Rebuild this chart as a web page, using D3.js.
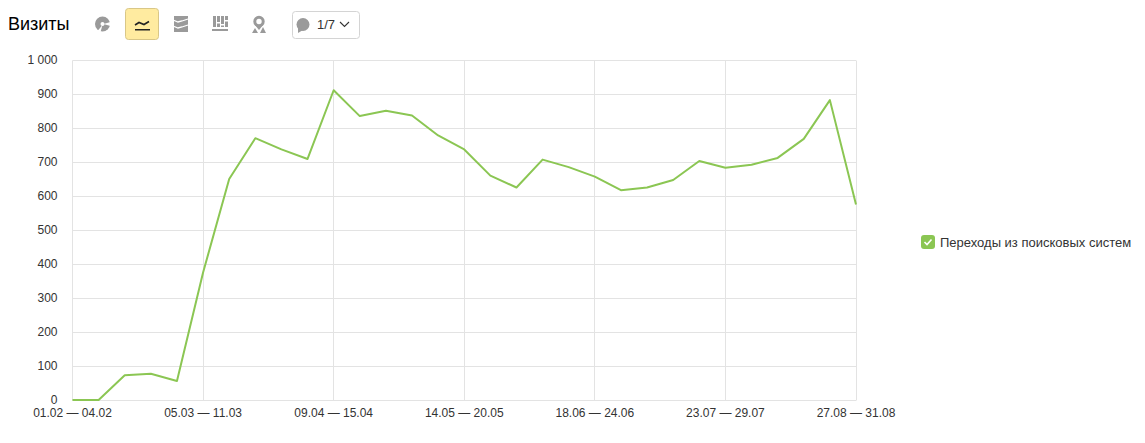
<!DOCTYPE html>
<html><head><meta charset="utf-8">
<script src="https://cdn.jsdelivr.net/npm/d3@7"></script>
<style>html,body{margin:0;padding:0;background:#fff}svg{display:block;font-family:"Liberation Sans",Arial,sans-serif}</style>
</head><body><svg id="c" width="1145" height="443"></svg>
<script>
const seriesName = "Переходы из поисковых систем";
const titleText = "Визиты";
const visits = [0,0,73,77,56,375,650,770,737,709,911,835,851,837,778,737,660,625,707,685,657,617,625,647,703,683,692,712,768,882,575];
const xTickIndex = [0,5,10,15,20,25,30];
const xTickLabels = ["01.02 — 04.02","05.03 — 11.03","09.04 — 15.04","14.05 — 20.05","18.06 — 24.06","23.07 — 29.07","27.08 — 31.08"];
const yTicks = [0,100,200,300,400,500,600,700,800,900,1000];

const svg = d3.select("#c");
const x = d3.scaleLinear().domain([0,visits.length-1]).range([72.5,856]);
const y = d3.scaleLinear().domain([0,1000]).range([400,60]);
const grid = "#e3e3e3", txt = "#333";
const fmt = v => v>=1000 ? d3.format(",")(v).replace(",", " ") : String(v);

// horizontal grid + y labels
const ya = svg.append("g").attr("transform","translate(72.5,0)")
  .call(d3.axisLeft(y).tickValues(yTicks).tickSize(-783.5).tickPadding(15).tickFormat(fmt));
ya.select(".domain").remove();
ya.selectAll("line").attr("stroke",grid);
ya.selectAll("text").attr("fill",txt).style("font-size","12px").style("font-family","inherit");

// vertical grid + x labels
const xa = svg.append("g").attr("transform","translate(0,400.5)")
  .call(d3.axisBottom(x).offset(0).tickValues(xTickIndex).tickSize(-340).tickPadding(8).tickFormat((d,i)=>xTickLabels[i]));
xa.select(".domain").remove();
xa.selectAll("line").attr("stroke",grid).attr("x1",d=>Math.floor(x(d))+0.5-x(d)).attr("x2",d=>Math.floor(x(d))+0.5-x(d));
xa.selectAll("text").attr("fill",txt).style("font-size","12px").style("font-family","inherit");

// line
svg.append("path").datum(visits)
  .attr("fill","none").attr("stroke","#8bc653").attr("stroke-width",2).attr("stroke-linejoin","round")
  .attr("d",d3.line().x((d,i)=>x(i)).y(d=>y(d)));

// title
svg.append("text").attr("x",8).attr("y",30).attr("font-size",18).attr("fill","#000").text(titleText);

// toolbar icons
const ic = "#9a9a9a";
// pie
const pie = svg.append("g").attr("transform","translate(102.5,24)");
pie.append("circle").attr("r",7.5).attr("fill",ic);
pie.append("circle").attr("r",2).attr("cx",0).attr("cy",0).attr("fill","#fff");
pie.append("path").attr("d","M1,0L8,-2L8,2Z").attr("fill","#fff");
pie.append("path").attr("d","M0,1L-2,8L-5,7Z").attr("fill","#fff");
// active line button
svg.append("rect").attr("x",125.5).attr("y",8.5).attr("width",33).attr("height",31).attr("rx",3)
  .attr("fill","#ffeba0").attr("stroke","#d9c787");
svg.append("path").attr("d","M135,25l4,-2.5l5,2l5,-3").attr("fill","none").attr("stroke","#222").attr("stroke-width",1.6);
svg.append("rect").attr("x",135).attr("y",29).attr("width",15).attr("height",1.5).attr("fill","#222");
// stacked
svg.append("rect").attr("x",174).attr("y",16).attr("width",14).attr("height",16).attr("fill",ic);
svg.append("path").attr("d","M173,20l5,2l4,-1l6,-2M173,26l5,2l4,-1l6,-2").attr("fill","none").attr("stroke","#fff").attr("stroke-width",1.3);
// bars
[[213,16,11],[217,16,11],[221,16,11],[225,16,11]].forEach(b=>svg.append("rect").attr("x",b[0]).attr("y",b[1]).attr("width",3).attr("height",b[2]).attr("fill",ic));
[[217,22],[221,24],[225,20]].forEach(b=>svg.append("rect").attr("x",b[0]).attr("y",b[1]).attr("width",3).attr("height",1.5).attr("fill","#fff"));
svg.append("rect").attr("x",212).attr("y",29).attr("width",16).attr("height",2).attr("fill",ic);
// map pin
svg.append("circle").attr("cx",259).attr("cy",21.5).attr("r",4.2).attr("fill","none").attr("stroke",ic).attr("stroke-width",3);
svg.append("path").attr("d","M255,25L259,30L263,25Z").attr("fill",ic);
svg.append("path").attr("d","M252,33L255,28L258,33ZM260,33L263,27L266,33Z").attr("fill",ic);
// comments button
svg.append("rect").attr("x",292.5).attr("y",11.5).attr("width",67).attr("height",27).attr("rx",3)
  .attr("fill","#fff").attr("stroke","#d4d4d4");
svg.append("circle").attr("cx",303).attr("cy",24.5).attr("r",6.5).attr("fill",ic);
svg.append("path").attr("d","M298,27L298,33L303,30Z").attr("fill",ic);
svg.append("text").attr("x",317).attr("y",29).attr("font-size",13).attr("fill",txt).text("1/7");
svg.append("path").attr("d","M340,22l4.5,4.5l4.5,-4.5").attr("fill","none").attr("stroke","#333").attr("stroke-width",1.1);

// legend
svg.append("rect").attr("x",921).attr("y",235).attr("width",14).attr("height",14).attr("rx",3).attr("fill","#8bc653");
svg.append("path").attr("d","M924.5,242l2.5,2.5l4.5,-5").attr("fill","none").attr("stroke","#fff").attr("stroke-width",1.6);
svg.append("text").attr("x",940).attr("y",247).attr("font-size",13).attr("fill",txt).text(seriesName);
</script></body></html>
